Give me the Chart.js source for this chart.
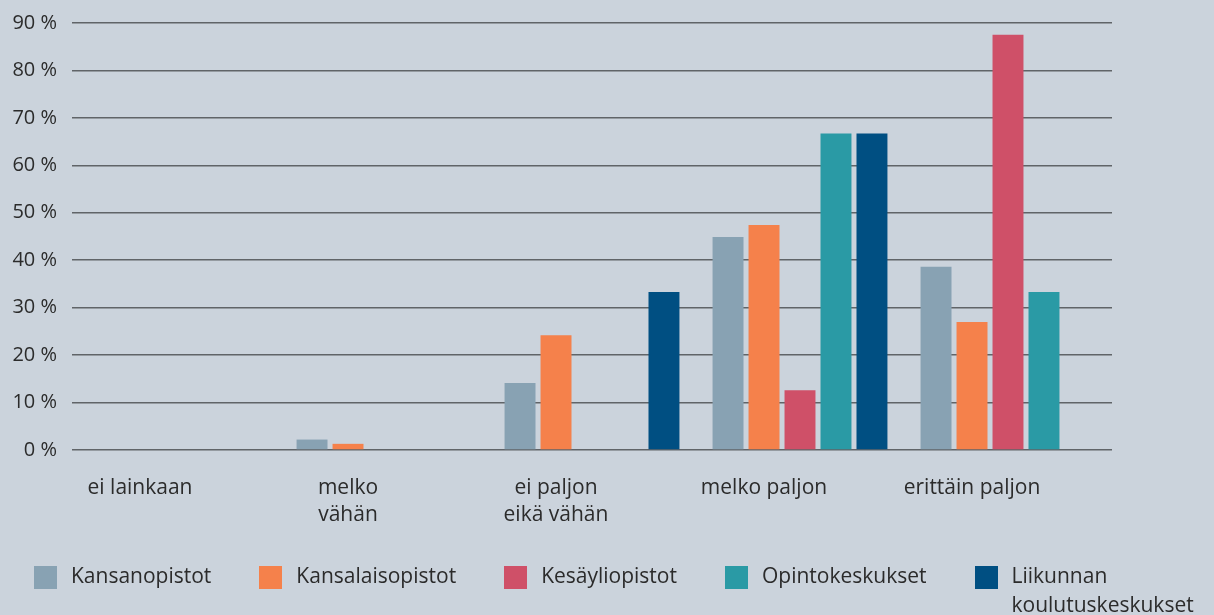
<!DOCTYPE html>
<html>
<head>
<meta charset="utf-8">
<script src="https://cdn.jsdelivr.net/npm/chart.js@4.4.1/dist/chart.umd.min.js"></script>
<style>
  html, body { margin: 0; padding: 0; background: #cbd3dc; overflow: hidden; }
  #wrap { position: relative; width: 1214px; height: 615px; }
  #chart { display: block; }
  #legend {
    position: absolute; left: 34px; top: 561px;
    display: flex; align-items: flex-start; gap: 48px;
    font-family: 'Open Sans', sans-serif; font-size: 21px; line-height: 29px; color: #2b2b2b;
  }
  .item { display: flex; align-items: flex-start; }
  .box { width: 23px; height: 23px; margin-top: 5px; margin-right: 14px; flex: none; }
</style>
</head>
<body>
<div id="wrap">
  <canvas id="chart" width="1214" height="615"></canvas>
  <div id="legend"></div>
</div>
<script>
// categories on the x axis
const categories = ['ei lainkaan', ['melko', 'vähän'], ['ei paljon', 'eikä vähän'], 'melko paljon', 'erittäin paljon'];

// series (percent)
const seriesNames = ['Kansanopistot', 'Kansalaisopistot', 'Kesäyliopistot', 'Opintokeskukset', ['Liikunnan', 'koulutuskeskukset']];
const kansanopistot = [0, 2.2, 14.1, 44.9, 38.6];
const kansalaisopistot = [0, 1.3, 24.2, 47.4, 27.0];
const kesayliopistot = [0, 0, 0, 12.6, 87.5];
const opintokeskukset = [0, 0, 0, 66.7, 33.3];
const liikunnan = [0, 0, 33.3, 66.7, 0];

const yTicks = [0, 10, 20, 30, 40, 50, 60, 70, 80, 90];
const colors = ['#88a2b3', '#f5814b', '#cf5068', '#2a9aa5', '#004f82'];

const textColor = '#2b2b2b';
const font = 'Open Sans';

const seriesData = [kansanopistot, kansalaisopistot, kesayliopistot, opintokeskukset, liikunnan];

const ctx = document.getElementById('chart').getContext('2d');
const chart = new Chart(ctx, {
  type: 'bar',
  data: {
    labels: categories,
    datasets: seriesData.map((d, i) => ({
      label: seriesNames[i],
      data: d,
      backgroundColor: colors[i],
      borderWidth: 0,
      categoryPercentage: 0.865,
      barPercentage: 0.86,
    })),
  },
  options: {
    responsive: false,
    animation: false,
    devicePixelRatio: 1,
    layout: {
      padding: { top: 23, right: 102, bottom: 85, left: 0 },
    },
    scales: {
      x: {
        grid: { display: false },
        border: { display: false },
        ticks: {
          color: textColor,
          font: { family: font, size: 21, lineHeight: 1.3 },
          padding: 16,
          labelOffset: -36,
          maxRotation: 0,
          autoSkip: false,
        },
        afterFit: (axis) => { axis.height = 80; },
      },
      y: {
        min: 0,
        max: 90,
        z: 1,
        afterBuildTicks: (axis) => { axis.ticks = yTicks.map(v => ({ value: v })); },
        grid: { color: 'rgba(78, 80, 84, 0.85)', lineWidth: 1.5, drawTicks: false },
        border: { display: false },
        ticks: {
          color: textColor,
          font: { family: font, size: 20 },
          padding: 15,
          callback: (v) => v + '\u00a0%',
        },
        afterFit: (axis) => {
          axis.width = 72;
          axis.paddingTop = 0;
          axis.paddingBottom = 0;
        },
      },
    },
    plugins: {
      tooltip: { enabled: false },
      legend: { display: false },
    },
  },
});

// legend in html, built from the chart's datasets
const legend = document.getElementById('legend');
chart.data.datasets.forEach((ds) => {
  const item = document.createElement('div');
  item.className = 'item';
  const box = document.createElement('span');
  box.className = 'box';
  box.style.background = ds.backgroundColor;
  const text = document.createElement('span');
  text.innerHTML = [].concat(ds.label).join('<br>');
  item.appendChild(box);
  item.appendChild(text);
  legend.appendChild(item);
});
</script>
</body>
</html>
